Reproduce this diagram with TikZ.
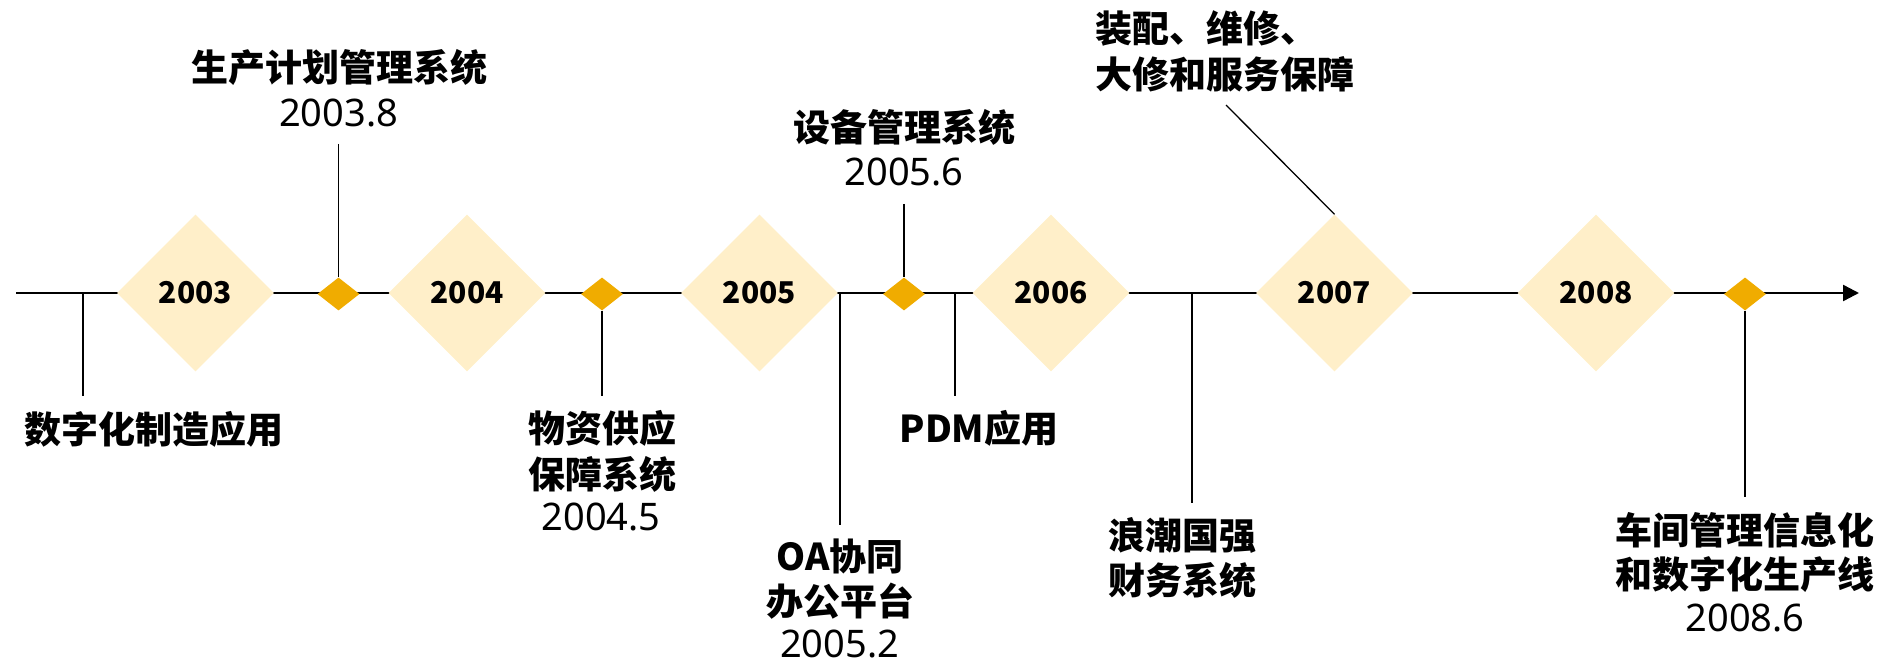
\documentclass[tikz,border=0pt]{standalone}
\usepackage{fontspec}
\setmainfont{Noto Sans CJK SC}
\newfontfamily\datefont{Noto Sans}
\usetikzlibrary{shapes.geometric,arrows.meta}
\definecolor{cream}{RGB}{255,239,201}
\definecolor{gold}{RGB}{240,172,0}

\begin{document}
\begin{tikzpicture}[x=1pt,y=-1pt,
  year/.style={diamond,fill=cream,minimum width=157pt,minimum height=157pt,inner sep=0pt,
    font=\fontsize{30}{36}\selectfont\bfseries},
  dot/.style={diamond,fill=gold,minimum width=42pt,minimum height=33pt,inner sep=0pt},
  lbl/.style={anchor=base,inner sep=0pt,font=\fontsize{37}{44}\selectfont\bfseries},
  date/.style={anchor=base,inner sep=0pt,font=\datefont\fontsize{38}{44}\selectfont},
  stem/.style={line width=1.3pt}]
\useasboundingbox (0,0) rectangle (1888,663);

% time axis
\coordinate (s) at (16,293);
\coordinate (e) at (1859,293);
\draw[line width=2.4pt,-{Triangle[length=16pt,width=16pt]}] (s) -- (e);

% years
\node[year] (y3) at (195.5,293) {2003};
\node[year] (y4) at (467,293) {2004};
\node[year] (y5) at (759.5,293) {2005};
\node[year] (y6) at (1051,293) {2006};
\node[year] (y7) at (1334.5,293) {2007};
\node[year] (y8) at (1596,293) {2008};

% small marks
\node[dot] (d1) at (338.5,294) {};
\node[dot] (d2) at (602,294) {};
\node[dot] (d3) at (904,294) {};
\node[dot] (d4) at (1745,294) {};

% labels above
\node[lbl] (t1) at (339,82) {生产计划管理系统};
\node[date] (n1) at (338.5,127) {2003.8};
\node[lbl] (t2) at (904,142) {设备管理系统};
\node[date] (n2) at (904,186) {2005.6};
\node[lbl,anchor=base west] (t3) at (1095,43) {装配、维修、};
\node[lbl,anchor=base west] (t3b) at (1095,89) {大修和服务保障};

% labels below
\node[lbl] (b1) at (153.5,443) {数字化制造应用};
\node[lbl] (b2) at (602,442) {物资供应};
\node[lbl] (b2b) at (602,488) {保障系统};
\node[date] (n3) at (601,530) {2004.5};
\node[lbl] (b3) at (840,570) {OA协同};
\node[lbl] (b3b) at (840,615) {办公平台};
\node[date] (n4) at (839.5,657) {2005.2};
\node[lbl] (b4) at (979,442) {PDM应用};
\node[lbl] (b5) at (1182.5,549) {浪潮国强};
\node[lbl] (b5b) at (1182.5,594) {财务系统};
\node[lbl] (b6) at (1745,544) {车间管理信息化};
\node[lbl] (b6b) at (1745,588) {和数字化生产线};
\node[date] (n5) at (1745,631) {2008.6};

% stems
\coordinate (c1) at (338.5,144);
\coordinate (c2) at (904,204);
\coordinate (c3) at (1226,105);
\coordinate (c4) at (83,396);
\coordinate (c5) at (602,396);
\coordinate (c6) at (840,525);
\coordinate (c7) at (955,396);
\coordinate (c8) at (1192,503);
\coordinate (c9) at (1745,497);
\draw[stem] (c1) -- (d1.north);
\draw[stem] (c2) -- (d3.north);
\draw[stem] (c3) -- (y7.north);
\draw[stem] (c4 |- s) -- (c4);
\draw[stem] (d2.south) -- (c5);
\draw[stem] (c6 |- s) -- (c6);
\draw[stem] (c7 |- s) -- (c7);
\draw[stem] (c8 |- s) -- (c8);
\draw[stem] (d4.south) -- (c9);
\end{tikzpicture}
\end{document}
